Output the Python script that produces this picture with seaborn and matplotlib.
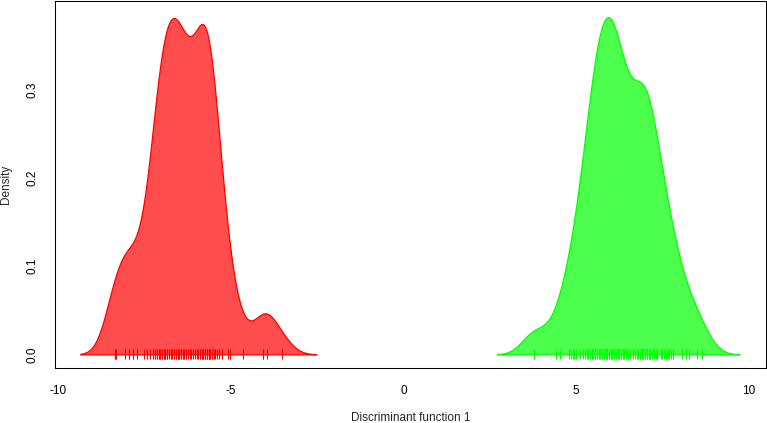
import numpy as np
import pandas as pd
import seaborn as sns
import matplotlib
matplotlib.use("Agg")
import matplotlib.pyplot as plt

# discriminant function 1 scores (value, number of individuals at that value)
red_pos = [-8.37, -8.33, -8.06, -7.96, -7.84, -7.73, -7.53, -7.44, -7.34,
           -7.25, -7.20, -7.15, -7.10, -7.05, -7.00, -6.95, -6.90, -6.85,
           -6.80, -6.75, -6.70, -6.65, -6.60, -6.55, -6.50, -6.45, -6.40,
           -6.35, -6.30, -6.25, -6.20, -6.15, -6.10, -6.05, -6.00, -5.95,
           -5.90, -5.85, -5.80, -5.75, -5.70, -5.65, -5.60, -5.55, -5.50,
           -5.45, -5.40, -5.35, -5.27, -5.09, -5.04, -4.66, -4.06, -3.96, -3.53]
red_cnt = [3, 1, 1, 2, 2, 1, 1, 1, 1,
           1, 2, 2, 2, 2, 2, 2, 2, 2,
           1, 2, 1, 2, 2, 2, 2, 2, 2,
           2, 2, 1, 1, 1, 1, 1, 1, 1,
           2, 2, 2, 3, 3, 3, 2, 2, 2,
           1, 1, 1, 1, 1, 2, 1, 2, 1, 1]

green_pos = [3.78, 4.41, 4.52, 4.80, 4.85, 4.90, 4.95, 5.00, 5.10, 5.20,
             5.25, 5.30, 5.35, 5.40, 5.45, 5.50, 5.55, 5.60, 5.65, 5.70,
             5.75, 5.80, 5.85, 5.90, 5.95, 6.00, 6.05, 6.10, 6.15, 6.20,
             6.25, 6.30, 6.35, 6.40, 6.45, 6.50, 6.55, 6.65, 6.70, 6.75,
             6.80, 6.85, 6.90, 6.95, 7.00, 7.05, 7.10, 7.15, 7.20, 7.25,
             7.30, 7.35, 7.45, 7.50, 7.55, 7.60, 7.65, 7.70, 7.75, 7.80,
             8.07, 8.17, 8.27, 8.50, 8.65]
green_cnt = [2, 1, 1, 1, 1, 1, 1, 1, 1, 1,
             1, 1, 1, 2, 2, 2, 2, 2, 2, 2,
             2, 2, 2, 2, 2, 2, 2, 2, 2, 2,
             2, 3, 2, 1, 1, 1, 1, 1, 1, 1,
             1, 3, 2, 2, 3, 2, 2, 2, 1, 1,
             1, 1, 1, 1, 1, 1, 1, 1, 1, 2,
             1, 1, 1, 1, 1]

# kernel bandwidths of the two density curves
red_bw = 0.333
green_bw = 0.36

red_vals = np.repeat(red_pos, red_cnt)
green_vals = np.repeat(green_pos, green_cnt)
df = pd.DataFrame({
    "ld1": np.concatenate([red_vals, green_vals]),
    "grp": ["1"] * len(red_vals) + ["2"] * len(green_vals),
})

sns.set_style("white")
plt.rcParams["font.family"] = ["Liberation Sans", "DejaVu Sans"]

fig = plt.figure(figsize=(7.67, 4.23), dpi=100)
ax = fig.add_axes([55 / 767, 1 - 368 / 423, 711 / 767, 367 / 423])

for grp, col, bw in [("1", "red", red_bw), ("2", "lime", green_bw)]:
    vals = df.loc[df.grp == grp, "ld1"]
    sns.kdeplot(x=vals, ax=ax, fill=True, color=col, alpha=0.7,
                edgecolor=col, linewidth=0.9, cut=3, gridsize=400,
                bw_method=bw / vals.std())
    sns.scatterplot(x=vals, y=np.zeros(len(vals)), ax=ax, marker="|",
                    s=55, color=col, linewidth=0.8, legend=False)

ax.set_xlim(-10.10, 10.50)
ax.set_ylim(-0.0155, 0.4005)
ax.set_xticks([-10, -5, 0, 5, 10])
ax.set_xticklabels(["-10", "-5", "0", "5", "10"])
ax.set_yticks([0.0, 0.1, 0.2, 0.3])
ax.set_yticklabels(["0.0", "0.1", "0.2", "0.3"], rotation=90, va="center")
ax.tick_params(axis="both", direction="out", length=5, width=0.75,
               color="black", labelsize=8.5, labelcolor="black", pad=7)
ax.set_xlabel("Discriminant function 1", fontsize=8.5, labelpad=11)
ax.set_ylabel("Density", fontsize=8.5, labelpad=10)
for sp in ax.spines.values():
    sp.set_visible(True)
    sp.set_color("black")
    sp.set_linewidth(0.75)

fig.savefig("out.png", dpi=100)
